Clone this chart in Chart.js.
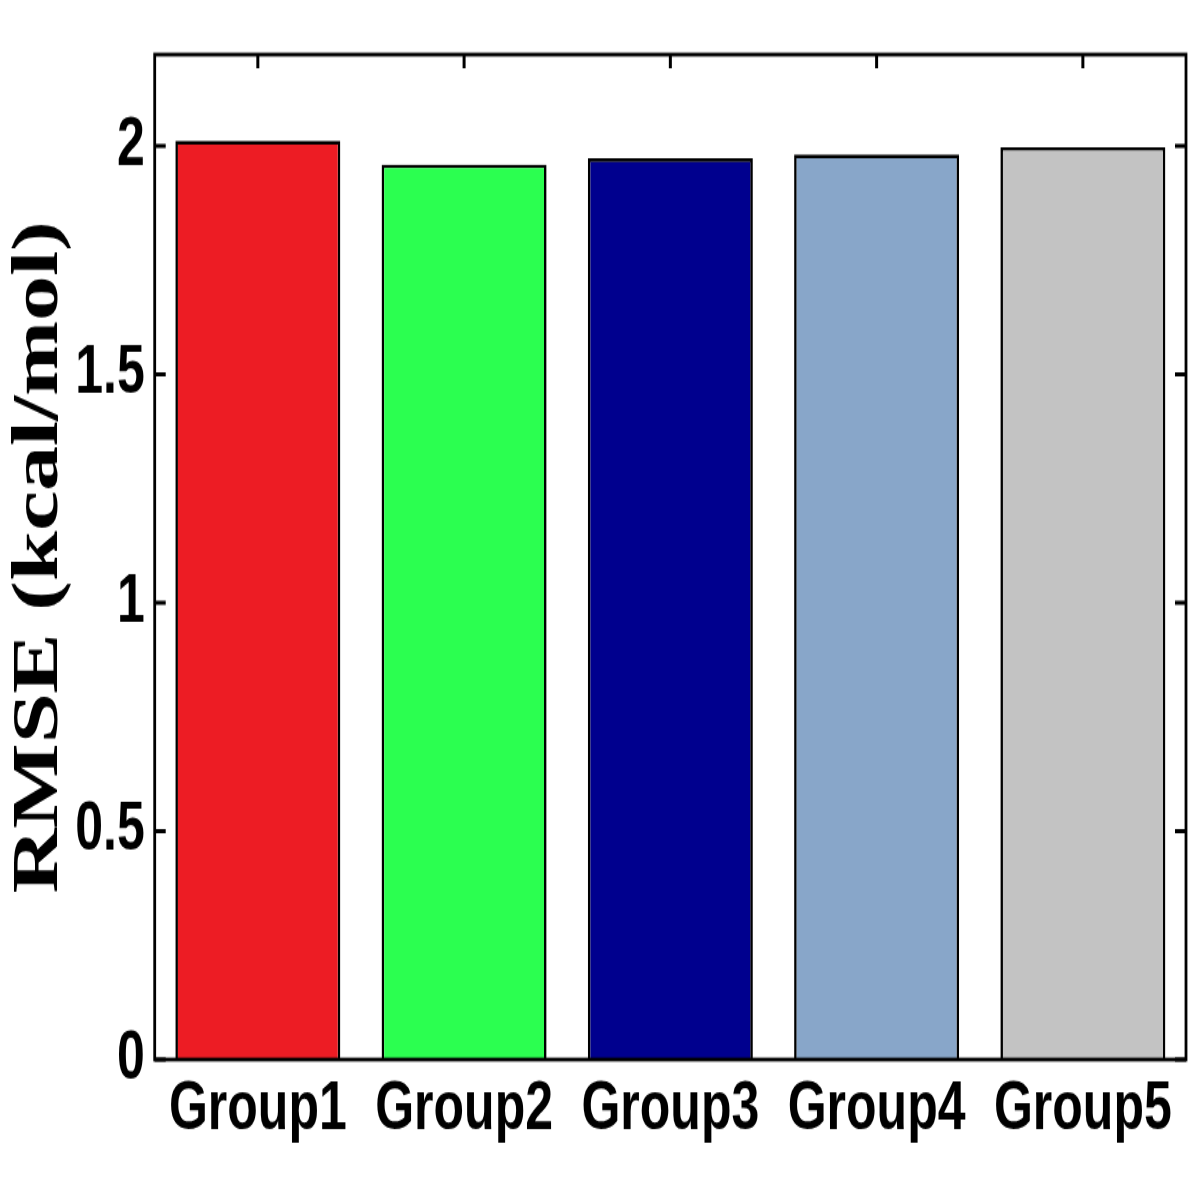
<!DOCTYPE html>
<html lang="en">
  <head>
    <meta charset="UTF-8" />
    <title>RMSE by group</title>
    <script src="https://cdn.jsdelivr.net/npm/chart.js"></script>
    <style>
      html, body { margin: 0; padding: 0; background: #ffffff; }
      #page { width: 1200px; height: 1200px; position: relative; }
      /* the source figure is stretched vertically, so draw at 1200x880 and stretch */
      #wrap { position: absolute; left: 0; top: 0; width: 1200px; height: 880px; transform: scale(1, 1.3636); transform-origin: 0 0; }
    </style>
  </head>
  <body>
    <div id="page"><div id="wrap"><canvas id="rmseChart" width="1200" height="880"></canvas></div></div>
    <script>
      // values
      const groups = ["Group1", "Group2", "Group3", "Group4", "Group5"];
      const rmse = [2.011, 1.959, 1.973, 1.981, 1.997];
      const barColors = ["#ED1C24", "#2BFF50", "#00008E", "#88A6C9", "#C3C3C3"];
      const yTicks = [0, 0.5, 1, 1.5, 2];

      const tickFont = { family: "'Liberation Sans', Arial, sans-serif", size: 50, weight: "bold" };

      // frame around the plot + inward tick marks on all four sides
      const frame = {
        id: "frame",
        afterDraw(chart) {
          const { ctx, chartArea: a, scales } = chart;
          ctx.save();
          ctx.strokeStyle = "#000";
          ctx.lineWidth = 3;
          ctx.beginPath();
          yTicks.forEach((v) => {
            const y = scales.y.getPixelForValue(v);
            ctx.moveTo(a.left, y);
            ctx.lineTo(a.left + 11, y);
            ctx.moveTo(a.right, y);
            ctx.lineTo(a.right - 11, y);
          });
          ctx.stroke();
          ctx.beginPath();
          groups.forEach((g, i) => {
            const x = scales.x.getPixelForValue(i);
            ctx.moveTo(x, a.top);
            ctx.lineTo(x, a.top + 10);
          });
          ctx.stroke();
          ctx.lineWidth = 2.8;
          ctx.strokeRect(a.left, a.top, a.right - a.left, a.bottom - a.top);
          ctx.restore();
        },
      };

      new Chart(document.getElementById("rmseChart"), {
        type: "bar",
        data: {
          labels: groups,
          datasets: [
            {
              data: rmse,
              backgroundColor: barColors,
              borderColor: "#000",
              borderWidth: 2.6,
              categoryPercentage: 0.8,
              barPercentage: 1.0,
            },
          ],
        },
        options: {
          responsive: false,
          animation: false,
          layout: { padding: { top: 36, right: 14, bottom: 29, left: 0 } },
          plugins: { legend: { display: false }, tooltip: { enabled: false } },
          scales: {
            x: {
              grid: { display: false, drawTicks: false },
              border: { display: false },
              ticks: { color: "#000", font: tickFont, padding: 7, maxRotation: 0, autoSkip: false },
            },
            y: {
              min: 0,
              max: 2.2,
              afterBuildTicks(scale) {
                scale.ticks = yTicks.map((v) => ({ value: v }));
              },
              grid: { display: false, drawTicks: false },
              border: { display: false },
              ticks: { color: "#000", font: tickFont, padding: 10, callback: (v) => String(v) },
              title: {
                display: true,
                text: "RMSE (kcal/mol)",
                color: "#000",
                font: { family: "'Liberation Serif', 'Times New Roman', serif", size: 66, weight: "bold" },
                padding: { top: 0, bottom: -14 },
              },
            },
          },
        },
        plugins: [frame],
      });
    </script>
  </body>
</html>
